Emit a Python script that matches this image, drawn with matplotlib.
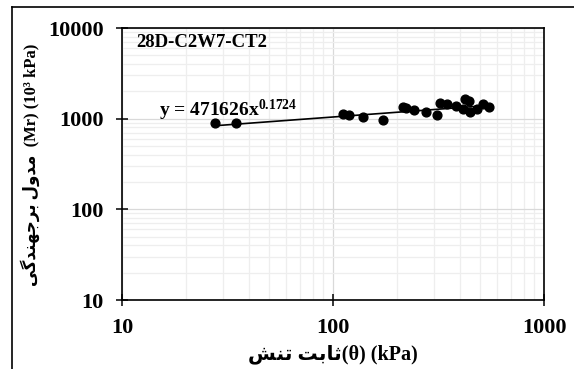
import matplotlib.pyplot as plt
import numpy as np
from matplotlib.lines import Line2D

# data (theta in kPa, Mr in 10^3 kPa)
theta = [27.7, 34.6, 112, 119, 139, 173, 215, 222, 243, 275, 310, 321, 346,
         383, 422, 443, 415, 446, 483, 515, 550]
mr = [905, 890, 1120, 1085, 1045, 965, 1336, 1300, 1260, 1170, 1085, 1500, 1445,
      1370, 1640, 1550, 1270, 1180, 1280, 1445, 1350]

# power trendline as printed on the chart (y in kPa -> divide by 1000)
coef_a = 471626
coef_b = 0.1724
label_fit = "y = 471626x$^{0.1724}$"
label_sample = "28D-C2W7-CT2"

x_ticks = [10, 100, 1000]
y_ticks = [10, 100, 1000, 10000]

# persian labels in visual order (presentation forms, since matplotlib has no shaping)
fa_theta = "\uFEB6\uFEE8\uFE97 \uFE96\uFE91\uFE8E\uFE9B"          # ثابت تنش
fa_mr = "\uFBFD\uFB94\uFEAA\uFEE8\uFEEC\uFE9F\uFEAE\uFE91 \uFEDD\uFEED\uFEAA\uFEE3"  # مدول برجهندگی

plt.rcParams['font.family'] = ['Liberation Serif', 'DejaVu Sans']
plt.rcParams['font.weight'] = 'bold'
plt.rcParams['mathtext.fontset'] = 'custom'
plt.rcParams['mathtext.rm'] = 'Liberation Serif:bold'
plt.rcParams['mathtext.bf'] = 'Liberation Serif:bold'
plt.rcParams['mathtext.default'] = 'rm'

fig = plt.figure(figsize=(5.74, 3.69), dpi=100)
ax = fig.add_axes([122/574, 1 - 300/369, (544 - 122)/574, (300 - 28)/369])

ax.set_xscale('log')
ax.set_yscale('log')
ax.set_xlim(10, 1000)
ax.set_ylim(10, 10000)

ax.grid(True, which='major', color='#d9d9d9', linewidth=0.9)
ax.grid(True, which='minor', color='#eeeeee', linewidth=0.9)
ax.set_axisbelow(True)

ax.scatter(theta, mr, s=40, color='black', zorder=5)
xf = np.logspace(np.log10(min(theta)), np.log10(max(theta)), 50)
ax.plot(xf, coef_a * xf**coef_b / 1000, color='black', linewidth=1.2, zorder=4)

ax.set_xticks(x_ticks)
ax.set_xticklabels([str(t) for t in x_ticks])
ax.set_yticks(y_ticks)
ax.set_yticklabels([str(t) for t in y_ticks])
ax.tick_params(which='major', direction='inout', length=9, width=1.1,
               labelsize=16, pad=8.5)
ax.tick_params(which='minor', length=0)
for sp in ax.spines.values():
    sp.set_linewidth(1.2)

ax.text(11.65, 6100, label_sample, fontsize=13.5, fontweight='bold', va='baseline')
ax.text(15, 1060, label_fit, fontsize=14, fontweight='bold', va='baseline')

fig.text(333/574, 1 - 354/369, fa_theta + "(\u03b8) (kPa)", ha='center', va='center',
         fontsize=14.5, fontweight='bold')
fig.text(30/574, 1 - 165/369, fa_mr + "  (Mr) (10\u00b3 kPa)", ha='center', va='center',
         rotation=90, fontsize=12, fontweight='bold')

# chart area border (left and top edges visible)
fig.add_artist(Line2D([12/574, 12/574], [0, 1 - 7/369], transform=fig.transFigure,
                      color='black', linewidth=1.2))
fig.add_artist(Line2D([12/574, 1], [1 - 7/369, 1 - 7/369], transform=fig.transFigure,
                      color='black', linewidth=1.2))

fig.savefig('out.png', dpi=100)
